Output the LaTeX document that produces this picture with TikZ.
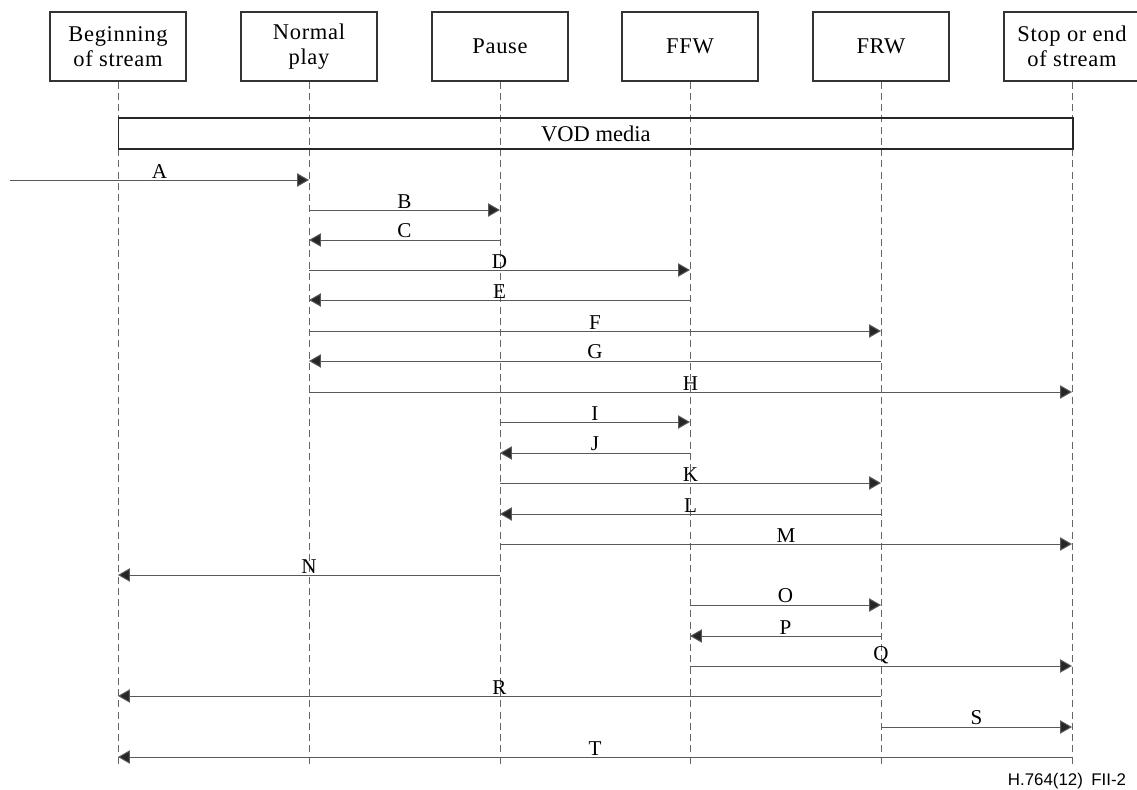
\documentclass[tikz,border=0pt]{standalone}
\usepackage{fontspec}
\setmainfont{Liberation Serif}
\newfontfamily\figsans{Liberation Sans}
\usetikzlibrary{arrows.meta}

\begin{document}
\begin{tikzpicture}[x=0.025cm,y=-0.025cm,
  statebox/.style={draw=black!80, line width=0.8pt, minimum width=3.4cm,
    minimum height=1.725cm, align=center, inner sep=1pt,
    font=\fontsize{16}{18}\selectfont\addfontfeature{LetterSpace=3}},
  life/.style={draw=black!60, dash pattern=on 5pt off 3pt, line width=0.6pt},
  msg/.style={draw=black!65, line width=0.7pt,
    -{Triangle[length=8.5pt,width=9.5pt,fill=black!85]}},
  lab/.style={above, inner sep=1pt, font=\fontsize{15}{16}\selectfont}]
  \useasboundingbox (0,0) rectangle (1137,789);
  % states
  \node[statebox] (begin) at (118,46.5) {Beginning\\of stream};
  \node[statebox] (play)  at (309,46.5) {Normal\\play};
  \node[statebox] (pause) at (500,46.5) {Pause};
  \node[statebox] (ffw)   at (690,46.5) {FFW};
  \node[statebox] (frw)   at (881,46.5) {FRW};
  \node[statebox] (stop)  at (1072,46.5) {Stop or end\\of stream};
  \foreach \s in {begin,play,pause,ffw,frw,stop}
    \draw[life] (\s.south) -- (\s.south |- 0,765);
  \node[draw=black!85, line width=1pt, anchor=west, minimum width=23.85cm,
    minimum height=0.775cm, inner sep=0pt, font=\fontsize{16}{17}\selectfont]
    (vod) at (begin |- 0,133.5) {VOD media};
  % transitions
  \coordinate (in) at (10,180);
  \draw[msg] (in) -- (play |- in) node[lab, midway] {A};
  \foreach \lab/\from/\to/\y in {B/play/pause/210, C/pause/play/240,
      D/play/ffw/270, E/ffw/play/300, F/play/frw/331, G/frw/play/361,
      H/play/stop/392, I/pause/ffw/422, J/ffw/pause/453, K/pause/frw/483,
      L/frw/pause/514, M/pause/stop/544, N/pause/begin/575, O/ffw/frw/605,
      P/frw/ffw/636, Q/ffw/stop/666, R/frw/begin/696, S/frw/stop/727,
      T/stop/begin/757}
    \draw[msg] (\from |- 0,\y) -- (\to |- 0,\y) node[lab, midway] {\lab};
  \node[anchor=east, font=\figsans\fontsize{12}{13}\selectfont] (tag)
    at (1131,781) {H.764(12)\enspace FII-2};
\end{tikzpicture}
\end{document}
